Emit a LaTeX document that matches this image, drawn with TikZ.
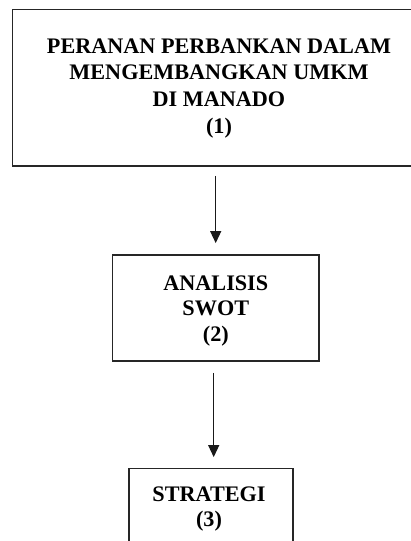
\documentclass[tikz,border=0pt]{standalone}
\usepackage{fontspec}
\setmainfont{Liberation Serif}
\usetikzlibrary{arrows.meta}
\tikzset{
  boxnode/.style={draw=black!85, line width=1.8pt, inner sep=0pt, rectangle},
  label/.style={font=\bfseries\fontsize{22.2}{26.6}\selectfont, align=center, inner sep=0pt, anchor=base},
  arr/.style={draw=black!90, line width=1.3pt, -{Triangle[length=12pt,width=11pt]}}
}
\begin{document}
\begin{tikzpicture}[x=1pt,y=-1pt]
\useasboundingbox (0,0) rectangle (411,541);
% boxes
\node[boxnode, minimum width=413pt, minimum height=156.5pt] (b1) at (219,87.75) {};
\node[boxnode, minimum width=206.5pt, minimum height=106pt] (b2) at (215.8,308) {};
\node[boxnode, minimum width=163.4pt, minimum height=92pt] (b3) at (211,514.5) {};
% texts (base anchor = baseline of last line)
\node[label] (t1) at (219,133.1) {PERANAN PERBANKAN DALAM\\MENGEMBANGKAN UMKM\\DI MANADO\\(1)};
\node[label, font=\bfseries\fontsize{22.2}{25.8}\selectfont] (t2) at (215.8,341.6) {ANALISIS\\SWOT\\(2)};
\node[label, font=\bfseries\fontsize{22.2}{25.7}\selectfont] (t3) at (209,526.7) {STRATEGI\\(3)};
% arrows
\coordinate (x1) at (215.7,0);
\coordinate (x2) at (213.7,0);
\draw[arr, shorten <=9pt, shorten >=11pt] (b1.south -| x1) -- (b2.north -| x1);
\draw[arr, shorten <=11pt, shorten >=10.5pt] (b2.south -| x2) -- (b3.north -| x2);
\end{tikzpicture}
\end{document}
